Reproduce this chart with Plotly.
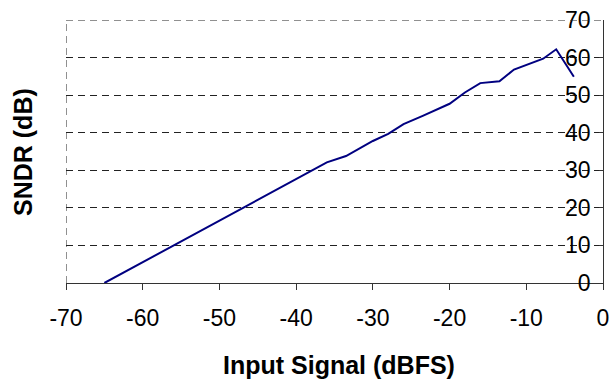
import plotly.graph_objects as go

input_dbfs = [-65, -36, -33.5, -30, -28, -26, -23.5, -20, -18, -16, -13.5, -11.6, -7.8, -6.1, -3.8]
sndr_db = [0, 32.1, 33.8, 37.8, 39.7, 42.3, 44.5, 47.7, 50.7, 53.2, 53.7, 56.8, 59.7, 62.2, 54.9]

x_ticks = [-70, -60, -50, -40, -30, -20, -10, 0]
y_ticks = [0, 10, 20, 30, 40, 50, 60, 70]

FONT = "Liberation Sans, Arial, sans-serif"

fig = go.Figure()
fig.add_trace(go.Scatter(
    x=input_dbfs, y=sndr_db, mode="lines",
    line=dict(color="#000080", width=2),
    showlegend=False, hoverinfo="skip",
))

fig.update_layout(
    width=616, height=381,
    margin=dict(l=66, r=7, t=17, b=98),
    paper_bgcolor="white", plot_bgcolor="white",
    font=dict(family=FONT, size=23, color="black"),
    xaxis=dict(
        range=[-70, 0], tickvals=x_ticks, ticktext=[str(v) for v in x_ticks],
        showgrid=False, zeroline=False,
        showline=True, linecolor="#333333", linewidth=1,
        ticks="outside", ticklen=6, tickcolor="#333333",
        tickfont=dict(size=23, color="black"),
        ticklabelstandoff=8, ticklabeloverflow="allow",
    ),
    yaxis=dict(
        range=[0, 70], tickvals=y_ticks, ticktext=[str(v) for v in y_ticks],
        side="right", ticklabelposition="inside", ticklabeloverflow="allow",
        showgrid=True, gridcolor="#222222", griddash="7px,5px", gridwidth=1,
        zeroline=False,
        showline=True, linecolor="#333333", linewidth=1,
        ticks="inside", ticklen=4, tickcolor="#333333",
        ticklabelstandoff=10,
        tickfont=dict(size=23, color="black"),
    ),
    shapes=[
        dict(type="line", xref="x", yref="paper", x0=-70, x1=-70, y0=0, y1=1,
             line=dict(color="#222222", width=1, dash="7px,5px")),
        dict(type="line", xref="paper", yref="y", x0=0, x1=1, y0=y_ticks[-1], y1=y_ticks[-1],
             line=dict(color="#222222", width=1, dash="7px,5px")),
    ],
    annotations=[
        dict(text="<b>SNDR (dB)</b>", xref="paper", yref="paper",
             x=-44/543, y=(283 - 150) / 266, textangle=-90,
             showarrow=False, font=dict(size=25, family=FONT),
             xanchor="center", yanchor="middle"),
        dict(text="<b>Input Signal (dBFS)</b>", xref="paper", yref="paper",
             x=(342 - 66) / 543, y=(283 - 366) / 266,
             showarrow=False, font=dict(size=25, family=FONT),
             xanchor="center", yanchor="middle"),
    ],
)

fig.write_html("out.html")
